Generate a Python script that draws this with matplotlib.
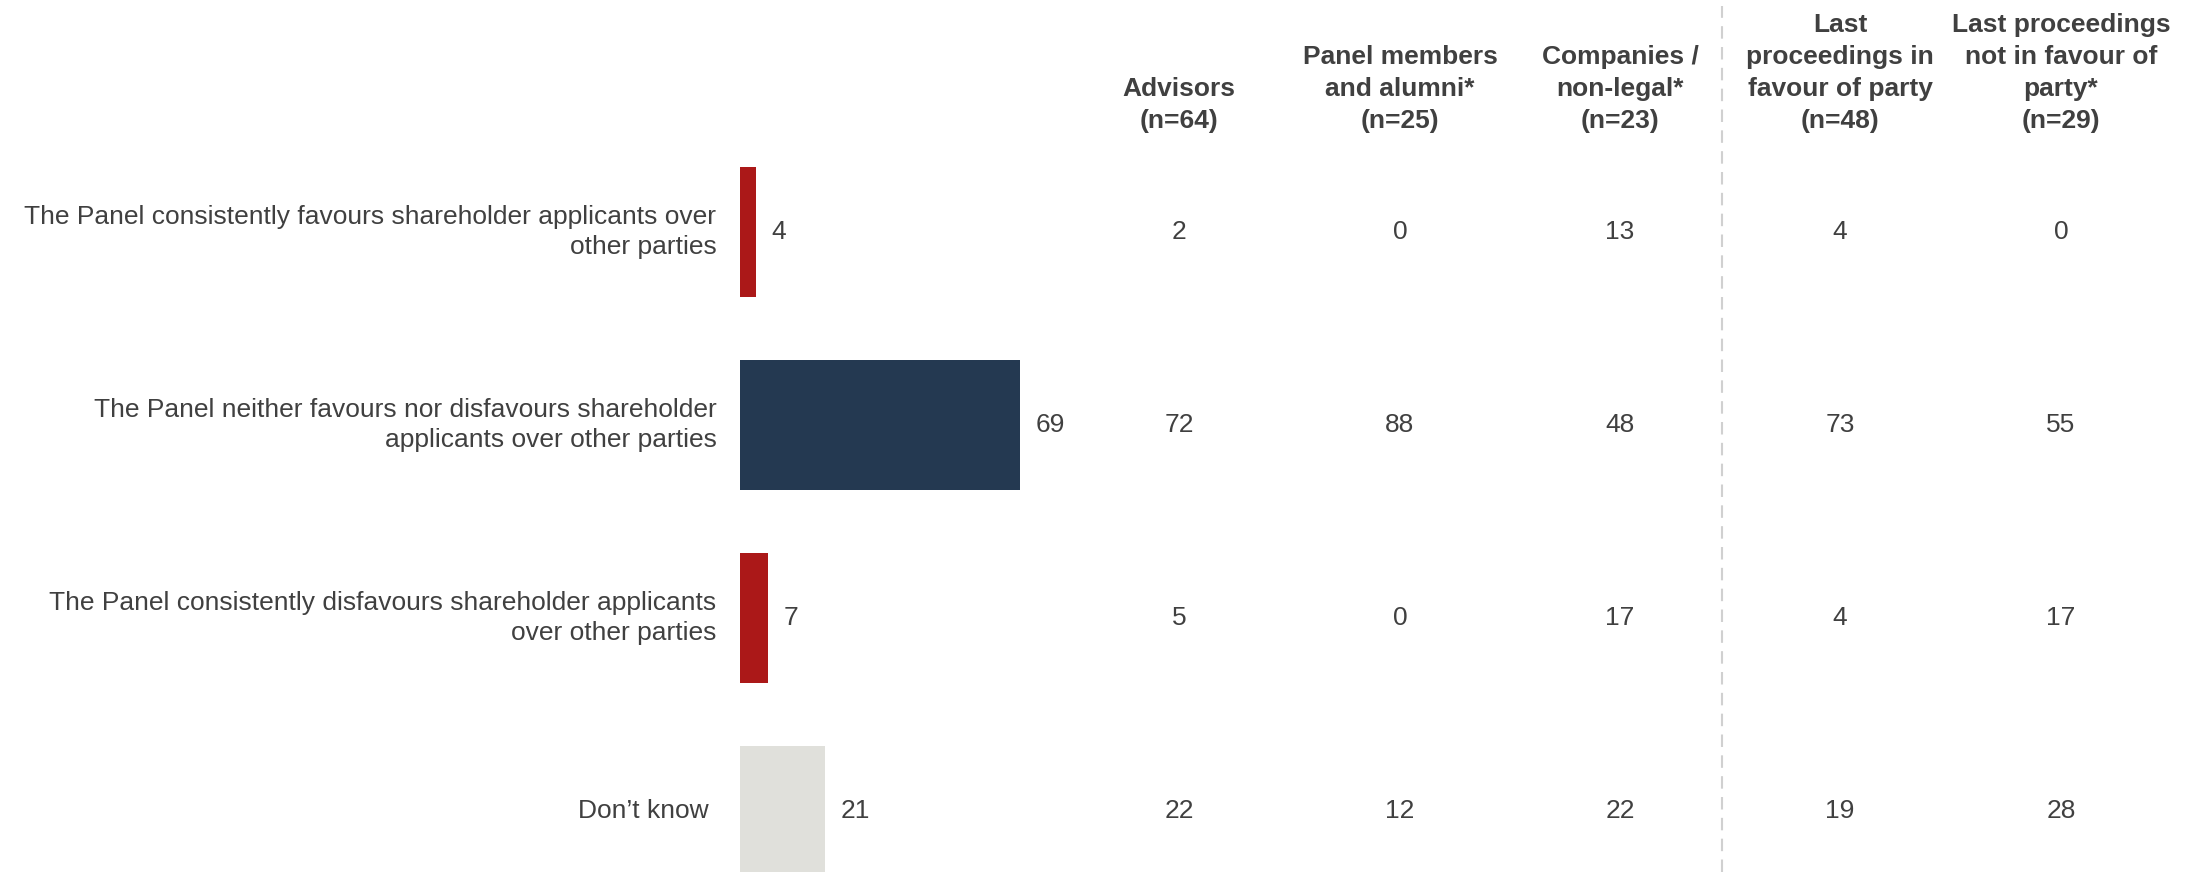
import matplotlib
matplotlib.use("Agg")
import matplotlib.pyplot as plt
from matplotlib.transforms import blended_transform_factory

plt.rcParams['font.family'] = ['Liberation Sans', 'DejaVu Sans']

# Data
statements = [
    "The Panel consistently favours shareholder applicants over\nother parties",
    "The Panel neither favours nor disfavours shareholder\napplicants over other parties",
    "The Panel consistently disfavours shareholder applicants\nover other parties",
    "Don\u2019t know ",
]
totals = [4, 69, 7, 21]
bar_colors = ['#AB1818', '#243951', '#AB1818', '#E0E0DB']

group_headers = [
    "Advisors\n(n=64)",
    "Panel members\nand alumni*\n(n=25)",
    "Companies /\nnon-legal*\n(n=23)",
    "Last\nproceedings in\nfavour of party\n(n=48)",
    "Last proceedings\nnot in favour of\nparty*\n(n=29)",
]
advisors = [2, 72, 5, 22]
panel = [0, 88, 0, 12]
companies = [13, 48, 17, 22]
favour = [4, 73, 4, 19]
not_favour = [0, 55, 17, 28]
group_values = [advisors, panel, companies, favour, not_favour]

W, H = 2201, 872
text_col = '#404040'
fs = 19

fig = plt.figure(figsize=(W / 100, H / 100), dpi=100)
# bars axis: starts at x=740px, ~4.06 px per percentage point
ax_left = 740 / W
ax = fig.add_axes([ax_left, 0, 1 - ax_left, 1])
ax.set_xlim(0, (W - 740) / 4.06)
row_gap = 193
ax.set_ylim((H - 232) / row_gap, -232 / row_gap)
ax.axis('off')

ypos = list(range(len(statements)))
ax.barh(ypos, totals, height=0.67, color=bar_colors)

for y, v, lab in zip(ypos, totals, statements):
    ax.annotate(str(v), (v, y), xytext=(11, 0), textcoords='offset points',
                va='center', ha='left', fontsize=fs, color=text_col)
    ax.annotate(lab, (0, y), xytext=(-17, 0), textcoords='offset points',
                va='center', ha='right', fontsize=fs, color=text_col,
                multialignment='right', linespacing=1.31,
                annotation_clip=False)

col_x = [1179, 1400, 1620, 1840, 2061]
trans = blended_transform_factory(fig.transFigure, ax.transData)
for cx, header, vals in zip(col_x, group_headers, group_values):
    fig.text(cx / W, 1 - 133 / H, header, ha='center', va='bottom',
             fontsize=fs, fontweight='bold', color=text_col,
             multialignment='center', linespacing=1.42)
    for y, v in zip(ypos, vals):
        ax.text(cx / W, y, str(v), transform=trans, ha='center', va='center',
                fontsize=fs, color=text_col)

fig.add_artist(plt.Line2D([1722 / W, 1722 / W], [0, 1 - 6 / H],
                          transform=fig.transFigure, color='#D0D0D0',
                          lw=1.5, ls=(0, (6, 4))))

fig.savefig('out.png', dpi=100, facecolor='white')
